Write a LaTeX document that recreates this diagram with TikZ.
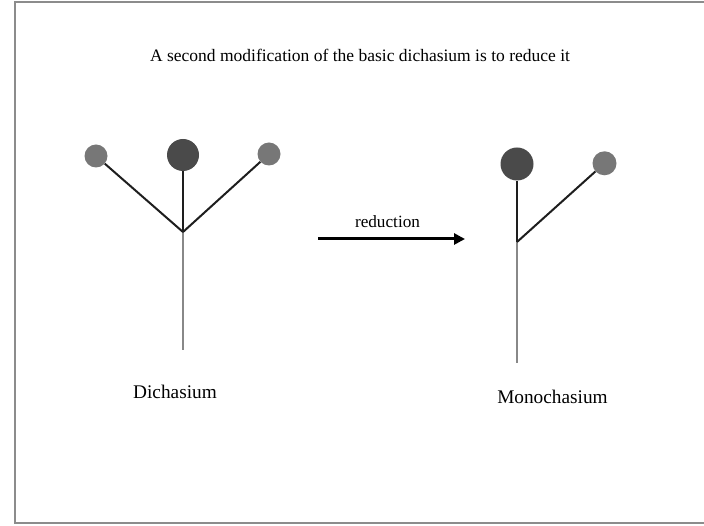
\documentclass[tikz,border=0pt]{standalone}
\usepackage{fontspec}
\setmainfont{Liberation Serif}
\usetikzlibrary{arrows.meta}
\definecolor{darkball}{HTML}{4A4A4A}
\definecolor{lightball}{HTML}{777777}
\definecolor{stemgray}{HTML}{888888}
\definecolor{branchcol}{HTML}{1E1E1E}
\tikzset{
  bigball/.style={circle,fill=darkball,draw=none,minimum size=32pt,inner sep=0pt},
  smallball/.style={circle,fill=lightball,draw=none,minimum size=23pt,inner sep=0pt},
  branch/.style={draw=branchcol,line width=2pt},
  stemline/.style={draw=stemgray,line width=1.9pt},
  lbl/.style={inner sep=0pt,anchor=base,font=\fontsize{19.3}{23}\selectfont},
}
\begin{document}
\begin{tikzpicture}[x=1pt,y=-1pt]
\useasboundingbox (0,0) rectangle (704,526);
\fill[white] (0,0) rectangle (704,526);
\draw[draw=gray!90,line width=1.2pt] (15,2) rectangle (712,523);
% title
\node[inner sep=0pt,anchor=base,font=\fontsize{17.5}{21}\selectfont] (title) at (360,61.5) {A second modification of the basic dichasium is to reduce it};
% left tree
\coordinate (j1) at (183,232);
\coordinate (s1) at (183,350);
\node[smallball] (l1) at (96,156) {};
\node[bigball] (m1) at (183,155) {};
\node[smallball] (r1) at (269,154) {};
\draw[stemline] (j1) -- (s1);
\draw[branch] (j1) -- (l1);
\draw[branch] (j1) -- (m1);
\draw[branch] (j1) -- (r1);
\node[lbl] (dich) at (175,399) {Dichasium};
% arrow
\coordinate (a1) at (318,239);
\coordinate (a2) at (465,239);
\draw[line width=3pt,-{Triangle[length=11pt,width=11pt]}] (a1) -- (a2);
\node[inner sep=0pt,anchor=base,font=\fontsize{17.2}{21}\selectfont] (red) at (387.5,228) {reduction};
% right tree
\coordinate (j2) at (517,242);
\coordinate (s2) at (517,363);
\node[bigball,minimum size=33pt] (m2) at (517,164) {};
\node[smallball,minimum size=24pt] (r2) at (604.5,163.3) {};
\draw[stemline] (j2) -- (s2);
\draw[branch] (j2) -- (m2);
\draw[branch] (j2) -- (r2);
\node[lbl] (mono) at (552.5,403) {Monochasium};
\end{tikzpicture}
\end{document}
